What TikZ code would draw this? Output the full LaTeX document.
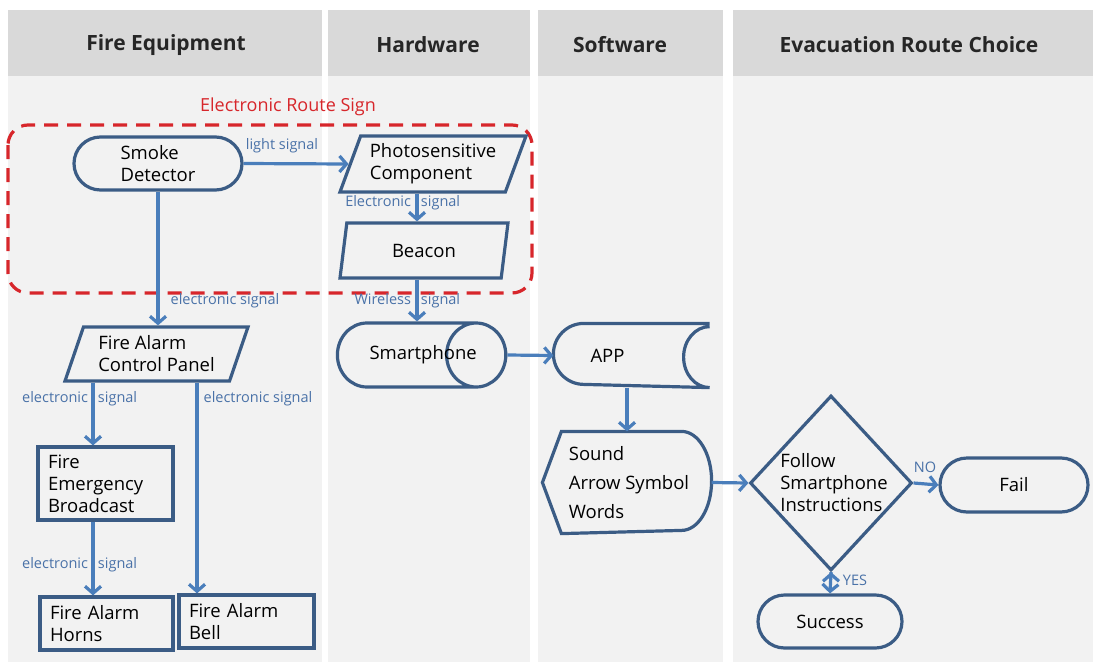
\documentclass[tikz,border=0pt]{standalone}
\usepackage{fontspec}
\setmainfont{Open Sans}
\usetikzlibrary{shapes.geometric,shapes.misc,arrows.meta}
\definecolor{headgray}{HTML}{D9D9D9}
\definecolor{lanegray}{HTML}{F2F2F2}
\definecolor{boxline}{HTML}{3B5C85}
\definecolor{flowline}{HTML}{4A7EBB}
\definecolor{sigtext}{HTML}{4A72A8}
\definecolor{signred}{HTML}{D7262B}
% label split round the arrow that crosses it
\newcommand{\splitsig}[2]{\llap{#1\hspace{5pt}}\rlap{\hspace{5pt}#2}}

\begin{document}
\begin{tikzpicture} [
    x=1pt, y=1pt,
    head/.style={fill=headgray},
    lane/.style={fill=lanegray},
    headtext/.style={font=\fontsize{21}{24}\selectfont\bfseries, text=black!85},
    box/.style={draw=boxline, line width=3.2pt, font=\fontsize{18.5}{22}\selectfont, inner sep=0pt},
    term/.style={box, rounded rectangle, align=left},
    io/.style={box, trapezium, trapezium left angle=63, trapezium right angle=117,
      trapezium stretches body, align=left},
    proc/.style={box, rectangle, align=left, inner xsep=10pt},
    plain/.style={box, draw=none},
    sig/.style={text=sigtext, font=\fontsize{14.5}{16}\selectfont, inner sep=1pt},
    flow/.style={draw=flowline, line width=3.2pt, -{Straight Barb[length=7pt,width=16pt]}},
    ]
    \useasboundingbox (0,0) rectangle (1093,-662);
    % Lanes
    \fill[lane] (8,-76) rectangle (322,-662);
    \fill[lane] (328,-76) rectangle (530,-662);
    \fill[lane] (538,-76) rectangle (723,-662);
    \fill[lane] (733,-76) rectangle (1093,-662);
    \fill[head] (8,-10) rectangle (322,-76);
    \fill[head] (328,-10) rectangle (530,-76);
    \fill[head] (538,-10) rectangle (723,-76);
    \fill[head] (733,-10) rectangle (1093,-76);
    \node[headtext] (hfire) at (166,-45) {Fire Equipment};
    \node[headtext] (hhard) at (428,-45) {Hardware};
    \node[headtext] (hsoft) at (620,-45) {Software};
    \node[headtext] (hroute) at (909,-45) {Evacuation Route Choice};

    % Electronic route sign
    \draw[signred, line width=3.2pt, dash pattern=on 14pt off 9pt, rounded corners=20pt]
    (8,-125) rectangle (532,-293);
    \node[text=signred, font=\fontsize{18}{20}\selectfont] (ersign) at (288,-107) {Electronic Route Sign};

    % Fire equipment
    \node[term, minimum width=168pt, minimum height=53pt] (sd) at (158,-163.5) {Smoke\\Detector};
    \node[io, minimum width=183pt, minimum height=54pt] (fap) at (156.5,-354) {Fire Alarm\\Control Panel};
    \node[proc, text width=115pt, minimum height=73pt] (feb) at (105.5,-483.5) {Fire\\Emergency\\Broadcast};
    \node[proc, text width=113pt, minimum height=53pt] (fah) at (106.5,-623.5) {Fire Alarm\\Horns};
    \node[proc, text width=115pt, minimum height=53pt] (fab) at (246.5,-621.5) {Fire Alarm\\Bell};

    % Hardware
    \node[io, minimum width=186pt, minimum height=56pt] (ps) at (433,-164) {Photosensitive\\Component};
    \node[io, minimum width=168pt, minimum height=55pt] (bc) at (424,-250.5) {Beacon};
    \node[box, cylinder, aspect=3.2, minimum width=64pt, minimum height=139pt] (sp) at (406,-355)
    {\makebox[78pt][l]{\hspace*{2.5pt}Smartphone}};

    % Software
    \node[plain, minimum width=153pt, minimum height=61pt,
      label={[box, draw=none, xshift=-24pt]center:APP}] (app) at (631.5,-355.5) {};
    \draw[boxline, line width=3.2pt] (app.north east) -- ([xshift=30.5pt]app.north west)
    arc[start angle=90, end angle=270, radius=30.5pt] -- (app.south east)
    arc[start angle=270, end angle=90, x radius=26pt, y radius=30.5pt];
    \node[plain, minimum width=166pt, minimum height=99pt, align=left] (disp) at (627,-482.5)
    {\hspace*{4pt}Sound\\[7pt]\hspace*{4pt}Arrow Symbol\\[7pt]\hspace*{4pt}Words};
    \draw[boxline, line width=3.2pt] (disp.west) -- ([xshift=19pt]disp.north west)
    -- ([xshift=-30pt]disp.north east)
    arc[start angle=90, end angle=-90, x radius=30pt, y radius=49.5pt]
    -- ([xshift=19pt]disp.south west) -- cycle;

    % Evacuation route choice
    \node[box, diamond, minimum width=162pt, minimum height=175pt,
      label={[box, draw=none, align=left, xshift=3pt]center:Follow\\Smartphone\\Instructions}] (dec) at (831,-483) {};
    \node[term, minimum width=148pt, minimum height=54pt] (fail) at (1014,-485) {Fail};
    \node[term, minimum width=144pt, minimum height=53pt] (succ) at (830,-621.5) {Success};

    % Signal labels
    \node[sig] (lsd) at (282,-146) {light signal};
    \node[sig] (lps) at (416,-203) {\splitsig{Electronic}{signal}};
    \node[sig] (lsdf) at (225,-301) {electronic signal};
    \node[sig] (lbc) at (416,-301) {\splitsig{Wireless}{signal}};
    \node[sig] (lfeb) at (93,-399) {\splitsig{electronic}{signal}};
    \node[sig] (lfab) at (258,-399) {electronic signal};
    \node[sig] (lfah) at (93,-565) {\splitsig{electronic}{signal}};
    \node[sig] (lno) at (925,-467) {NO};
    \node[sig] (lyes) at (855,-580) {YES};

    % Connectors
    \coordinate (colA) at (93,0);
    \coordinate (colB) at (197,0);
    \coordinate (colH) at (417,0);
    \coordinate (colS) at (627,0);
    \path [flow]
    (sd.east) edge (ps.west)
    (sd.south) edge (sd.south |- fap.north)
    (fap.south -| colA) edge (feb.north -| colA)
    (fap.south -| colB) edge (fab.north -| colB)
    (feb.south -| colA) edge (fah.north -| colA)
    (ps.south -| colH) edge (bc.north -| colH)
    (bc.south -| colH) edge (sp.north -| colH)
    (sp.east) edge (app.west)
    (app.south -| colS) edge (disp.north -| colS)
    (disp.east) edge (dec.west)
    (dec.east) edge (fail.west)
    (dec.south) edge (succ.north);
  \end{tikzpicture}
\end{document}
